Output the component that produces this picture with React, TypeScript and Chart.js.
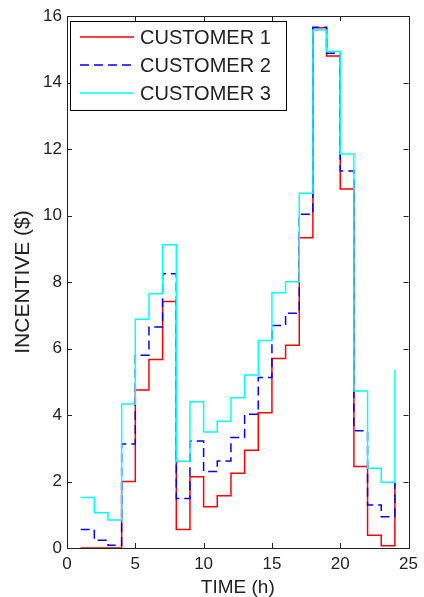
import React, { useEffect, useRef } from "react";
import { Chart, registerables } from "chart.js";

Chart.register(...registerables);

const hours = [1, 2, 3, 4, 5, 6, 7, 8, 9, 10, 11, 12, 13, 14, 15, 16, 17, 18, 19, 20, 21, 22, 23, 24];
const customer1 = [0, 0, 0, 2.0, 4.75, 5.67, 7.41, 0.56, 2.14, 1.24, 1.57, 2.25, 2.94, 4.07, 5.7, 6.1, 9.33, 15.65, 14.8, 10.8, 2.45, 0.38, 0.07, 1.95];
const customer2 = [0.56, 0.23, 0.08, 3.13, 5.8, 6.65, 8.25, 1.49, 3.22, 2.3, 2.62, 3.32, 4.02, 5.13, 6.69, 7.06, 10.04, 15.66, 14.88, 11.34, 3.53, 1.29, 0.94, 1.98];
const customer3 = [1.52, 1.06, 0.84, 4.33, 6.88, 7.65, 9.12, 2.61, 4.4, 3.49, 3.81, 4.52, 5.2, 6.24, 7.68, 8.01, 10.67, 15.58, 14.93, 11.85, 4.72, 2.4, 1.98, 5.37];
const seriesNames = ["CUSTOMER 1", "CUSTOMER 2", "CUSTOMER 3"];
const seriesColors = ["#ff0000", "#0000ff", "#00ffff"];
const xTitle = "TIME (h)";
const yTitle = "INCENTIVE ($)";

const FONT = "'Liberation Sans', Arial, Helvetica, sans-serif";

const boxAndLegend = {
  id: "boxAndLegend",
  afterDatasetsDraw(chart: any) {
    const { ctx, chartArea, scales } = chart;
    const { left, right, top, bottom } = chartArea;
    ctx.save();
    // axes box
    ctx.strokeStyle = "#222";
    ctx.lineWidth = 1;
    ctx.setLineDash([]);
    ctx.strokeRect(Math.round(left) + 0.5, Math.round(top) + 0.5, Math.round(right - left), Math.round(bottom - top));
    const tl = 5;
    ctx.beginPath();
    scales.x.ticks.forEach((t: any) => {
      const px = Math.round(scales.x.getPixelForValue(t.value)) + 0.5;
      ctx.moveTo(px, bottom);
      ctx.lineTo(px, bottom - tl);
      ctx.moveTo(px, top);
      ctx.lineTo(px, top + tl);
    });
    scales.y.ticks.forEach((t: any) => {
      const py = Math.round(scales.y.getPixelForValue(t.value)) + 0.5;
      ctx.moveTo(left, py);
      ctx.lineTo(left + tl, py);
      ctx.moveTo(right, py);
      ctx.lineTo(right - tl, py);
    });
    ctx.stroke();

    // legend
    const x0 = Math.round(left) + 3;
    const y0 = Math.round(top) + 5;
    const w = 216;
    const h = 89;
    ctx.fillStyle = "#fff";
    ctx.fillRect(x0, y0, w, h);
    ctx.strokeStyle = "#000";
    ctx.strokeRect(x0 + 0.5, y0 + 0.5, w, h);
    ctx.font = `20px ${FONT}`;
    ctx.textBaseline = "middle";
    ctx.textAlign = "left";
    chart.data.datasets.forEach((ds: any, i: number) => {
      const y = y0 + 16 + i * 28;
      ctx.beginPath();
      ctx.strokeStyle = ds.borderColor;
      ctx.lineWidth = 1.5;
      ctx.setLineDash(ds.borderDash || []);
      ctx.moveTo(x0 + 10, y);
      ctx.lineTo(x0 + 64, y);
      ctx.stroke();
      ctx.setLineDash([]);
      ctx.fillStyle = "#222";
      ctx.fillText(ds.label, x0 + 70, y + 1);
    });
    ctx.restore();
  },
};

export default function App() {
  const ref = useRef<HTMLCanvasElement | null>(null);
  useEffect(() => {
    if (!ref.current) return;
    const mk = (vals: number[]) => hours.map((h, i) => ({ x: h, y: vals[i] }));
    const chart = new Chart(ref.current, {
      type: "line",
      data: {
        datasets: [
          { label: seriesNames[0], data: mk(customer1), borderColor: seriesColors[0], borderWidth: 1.5, pointRadius: 0, stepped: "before", fill: false, order: 2 },
          { label: seriesNames[1], data: mk(customer2), borderColor: seriesColors[1], borderWidth: 1.5, pointRadius: 0, stepped: "before", fill: false, borderDash: [9, 5], order: 1 },
          { label: seriesNames[2], data: mk(customer3), borderColor: seriesColors[2], borderWidth: 1.5, pointRadius: 0, stepped: "before", fill: false, order: 0 },
        ],
      },
      options: {
        responsive: false,
        animation: false,
        layout: { padding: { left: 0, right: 10, top: 16, bottom: 0 } },
        plugins: { legend: { display: false }, tooltip: { enabled: false } },
        scales: {
          x: {
            type: "linear",
            min: 0,
            max: 25,
            grid: { display: false, drawTicks: false },
            border: { display: false },
            ticks: { stepSize: 5, padding: 6, color: "#222", font: { family: FONT, size: 17 } },
            title: { display: true, text: xTitle, color: "#222", font: { family: FONT, size: 19, lineHeight: 1 }, padding: { top: 0, bottom: 0 } },
            afterFit: (s: any) => { s.height = 49; },
          },
          y: {
            type: "linear",
            min: 0,
            max: 16,
            grid: { display: false, drawTicks: false },
            border: { display: false },
            ticks: { stepSize: 2, padding: 5, color: "#222", font: { family: FONT, size: 17 } },
            title: { display: true, text: yTitle, color: "#222", font: { family: FONT, size: 21, lineHeight: 1 }, padding: { top: 13, bottom: 0 } },
            afterFit: (s: any) => { s.width = 67; },
          },
        },
      },
      plugins: [boxAndLegend],
    });
    return () => chart.destroy();
  }, []);
  return (
    <div style={{ position: "absolute", left: 0, top: 0, width: 424, height: 597, background: "#fff" }}>
      <canvas ref={ref} width={424} height={597} style={{ display: "block", width: 424, height: 597 }} />
    </div>
  );
}
